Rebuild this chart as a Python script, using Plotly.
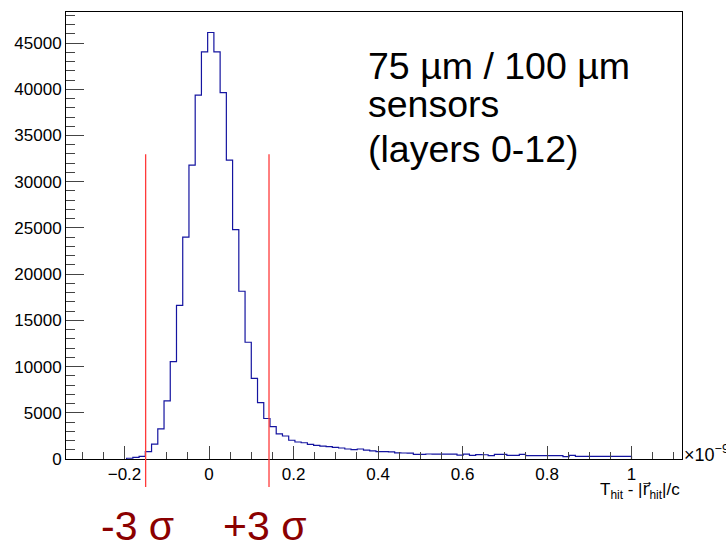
import numpy as np
import plotly.graph_objects as go

# ---- data ----
bin_lo = -0.195   # x10^-9 s
bin_hi = 1.0
counts = [80, 180, 290, 790, 1620, 3250, 6280, 10530, 16630, 24000,
          31790, 39360, 44050, 46140, 44050, 39640, 32330, 24820, 18150, 12630,
          8730, 6100, 4380, 3500, 2710, 2490, 2030, 1840, 1760, 1590,
          1480, 1400, 1330, 1260, 1190, 1080, 1010, 1080, 970, 870,
          790, 800, 780, 660, 650, 640, 500, 510, 540, 530,
          530, 520, 530, 430, 520, 400, 470, 460, 360, 500,
          490, 400, 400, 500, 360, 360, 360, 360, 360, 360,
          250, 400, 290, 290, 290, 290, 290, 290, 290, 290, 290]
sigma_lines = [-0.150, 0.142]
sigma_labels = ["-3 σ", "+3 σ"]
info_lines = ["75 µm / 100 µm", "sensors", "(layers 0-12)"]
x_ticks = [-0.2, 0, 0.2, 0.4, 0.6, 0.8, 1]
y_ticks = [0, 5000, 10000, 15000, 20000, 25000, 30000, 35000, 40000, 45000]

edges = np.linspace(bin_lo, bin_hi, len(counts) + 1)
xs = [edges[0]] + list(edges) + [edges[-1]]
ys = [0] + list(counts) + [counts[-1], 0]

FONT = "Liberation Sans, Arial, sans-serif"

fig = go.Figure()
fig.add_trace(go.Scatter(x=xs, y=ys, mode="lines", line_shape="hv",
                         line=dict(color="#1414a0", width=1.2),
                         hoverinfo="skip", showlegend=False))

for xv in sigma_lines:
    fig.add_shape(type="line", xref="x", yref="paper", x0=xv, x1=xv,
                  y0=-0.0626, y1=0.6817, line=dict(color="#ff3a3a", width=1.3))

# sigma labels
for lbl, xpix in zip(sigma_labels, [99, 221]):
    fig.add_annotation(text=lbl, xref="paper", yref="paper",
                       x=(xpix - 66) / 616, y=(459 - 526) / 447, xanchor="left", yanchor="middle",
                       showarrow=False, font=dict(family=FONT, size=41, color="#8b0000"))

# info text
for txt, ypix in zip(info_lines, [66, 104, 149]):
    fig.add_annotation(text=txt, xref="paper", yref="paper",
                       x=(366 - 66) / 616, y=(459 - ypix) / 447,
                       xanchor="left", yanchor="middle", showarrow=False,
                       font=dict(family=FONT, size=37.5, color="black"))

# exponent and axis title
fig.add_annotation(text="×10<sup>−9</sup>", xref="paper", yref="paper",
                   x=1.0, y=(459 - 453) / 447, xanchor="left", yanchor="middle",
                   showarrow=False, font=dict(family=FONT, size=18, color="black"))
fig.add_annotation(
    text="T<sub>hit</sub> - |<span style=\"font-family:DejaVu Sans\">r\u20d7</span><sub>hit</sub>|/c",
    xref="paper", yref="paper",
    x=1.0, y=(459 - 490) / 447, xanchor="right", yanchor="middle",
    showarrow=False, font=dict(family=FONT, size=17, color="black"))

fig.update_layout(
    width=726, height=544,
    margin=dict(l=66, r=44, t=12, b=85),
    paper_bgcolor="white", plot_bgcolor="white",
    font=dict(family=FONT, size=17, color="black"),
)
fig.update_xaxes(range=[-0.3385, 1.1195], tickvals=x_ticks,
                 ticktext=["\u22120.2", "0", "0.2", "0.4", "0.6", "0.8", "1"],
                 ticks="inside", ticklen=13, tickcolor="#444", tickwidth=1,
                 minor=dict(ticks="inside", ticklen=7, dtick=0.05, tick0=0, tickcolor="#444"),
                 showline=True, linecolor="black", linewidth=1, mirror=True,
                 showgrid=False, zeroline=False, tickfont=dict(size=17))
fig.update_yaxes(range=[0, 48360], tickvals=y_ticks, tickformat="d",
                 ticks="inside", ticklen=18, tickcolor="#444", tickwidth=1,
                 minor=dict(ticks="inside", ticklen=9, dtick=1000, tick0=0, tickcolor="#444"),
                 showline=True, linecolor="black", linewidth=1, mirror=True,
                 showgrid=False, zeroline=False, tickfont=dict(size=17))

fig.write_html("out.html")
